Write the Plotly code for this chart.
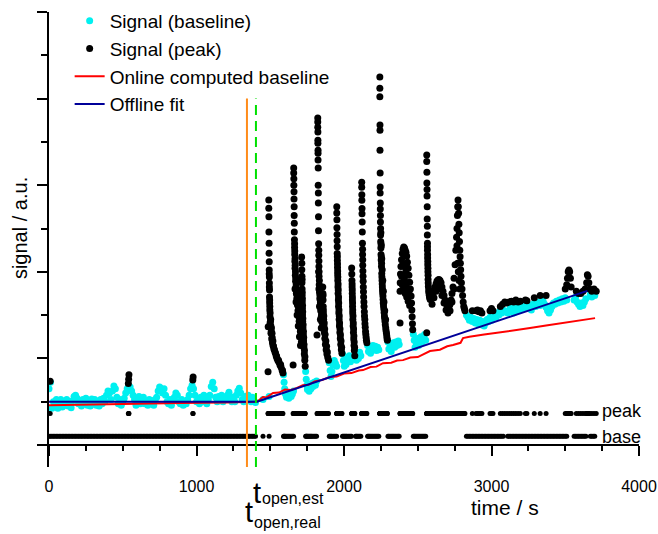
import plotly.graph_objects as go

# ---------------- data ----------------
# Signal classified as baseline (cyan), before opening: sampled every 10 s
base_pre_t = list(range(0, 1410, 10))
base_pre_v = [1.30, 1.45, 0.85, 1.00, 0.90, 1.05, 0.85, 0.95, 1.05, 0.88,
              1.00, 0.92, 1.05, 0.90, 1.00, 0.86, 1.02, 1.12, 1.15, 1.08,
              0.95, 1.02, 0.90, 1.05, 0.95, 1.08, 0.92, 1.02, 0.90, 1.06,
              0.95, 1.05, 0.92, 1.00, 0.90, 1.05, 0.95, 1.08, 1.00, 1.15,
              1.25, 1.20, 1.05, 1.25, 1.36, 1.30, 1.10, 0.95, 1.05, 0.92,
              1.00, 1.08, 1.20, 1.30, 1.34, 1.34, 1.25, 1.15, 1.05, 0.92,
              1.02, 1.12, 0.95, 1.05, 1.10, 0.95, 1.00, 0.92, 1.05, 0.95,
              1.02, 0.92, 1.05, 1.10, 1.25, 1.34, 1.30, 1.20, 1.30, 1.15,
              1.00, 0.95, 1.05, 0.92, 1.02, 1.10, 1.20, 1.15, 1.00, 0.95,
              1.05, 0.92, 1.00, 0.95, 1.05, 1.15, 1.30, 1.38, 1.30, 1.15,
              1.00, 1.08, 0.95, 1.10, 1.00, 1.15, 1.05, 0.95, 1.05, 1.15,
              1.35, 1.45, 1.30, 1.10, 1.00, 1.12, 1.02, 1.15, 1.00, 1.10,
              1.05, 1.15, 1.22, 1.12, 1.00, 1.08, 1.00, 1.15, 1.25, 1.31,
              1.20, 1.05, 1.00, 1.12, 1.05, 1.15, 1.08, 1.00, 1.10, 1.02,
              0.98]

# Baseline-classified signal after opening (between the peaks)
base_open_t = [1451, 1492,
               1590, 1594, 1598, 1603, 1610, 1618, 1626, 1634, 1642, 1650, 1658,
               1740, 1744, 1748, 1752, 1758, 1764, 1770, 1776, 1782, 1790, 1798, 1806, 1814,
               1900, 1906, 1912, 1918, 1926, 1934, 1942, 1950,
               1990, 1996, 2002, 2008, 2014, 2020, 2028, 2036, 2044, 2050,
               2078, 2084, 2090, 2098, 2106, 2114,
               2160, 2166, 2172, 2180, 2188, 2196, 2204, 2212, 2220, 2228, 2236,
               2298, 2304, 2312, 2320, 2328, 2336, 2344, 2352, 2360, 2368, 2374,
               2470, 2476, 2482, 2490, 2498, 2506, 2514, 2522, 2530, 2538, 2546, 2554]
base_open_v = [1.05, 1.12,
               1.62, 1.45, 1.30, 1.18, 1.10, 1.15, 1.08, 1.20, 1.12, 1.18, 1.25,
               1.70, 1.52, 1.38, 1.28, 1.32, 1.24, 1.36, 1.30, 1.42, 1.35, 1.45, 1.38, 1.48,
               1.90, 1.72, 1.58, 1.70, 1.85, 1.95, 1.88, 1.82,
               2.10, 1.95, 1.82, 1.92, 1.86, 2.00, 1.94, 2.06, 1.92, 2.00,
               2.05, 1.96, 2.10, 2.00, 2.14, 2.06,
               2.30, 2.16, 2.26, 2.12, 2.22, 2.30, 2.20, 2.28, 2.18, 2.26, 2.20,
               2.38, 2.22, 2.32, 2.16, 2.28, 2.36, 2.26, 2.38, 2.30, 2.40, 2.32,
               2.56, 2.42, 2.26, 2.36, 2.46, 2.30, 2.42, 2.50, 2.38, 2.46, 2.55, 2.42]

# Baseline-classified signal, late part
base_late_t = [2830, 2840, 2850, 2860, 2870, 2880, 2890, 2900, 2910, 2920,
               2930, 2940, 2950, 2960, 2970, 2980, 2990, 3000, 3010, 3020,
               3030, 3040, 3050, 3060, 3070, 3080, 3110, 3120, 3130, 3140,
               3150, 3160, 3170, 3180, 3190, 3200, 3210, 3220, 3230, 3240,
               3250, 3260, 3270, 3280, 3290, 3300, 3310, 3320, 3330, 3340,
               3350, 3360, 3370, 3380, 3390, 3400, 3410, 3420, 3430, 3440,
               3450, 3460, 3470, 3480, 3490, 3500, 3510, 3560, 3570, 3580,
               3590, 3600, 3610, 3620, 3630, 3640, 3670, 3680, 3690, 3700]
base_late_v = [3.00, 2.95, 2.88, 2.95, 2.85, 2.92, 2.82, 2.90, 2.80, 2.88,
               2.78, 2.85, 2.75, 2.82, 2.90, 2.85, 2.95, 2.88, 2.98, 3.02,
               2.95, 3.05, 3.00, 3.10, 3.05, 3.12, 3.05, 3.12, 3.18, 3.10,
               3.05, 3.15, 3.10, 3.18, 3.12, 3.20, 3.15, 3.22, 3.15, 3.20,
               3.25, 3.18, 3.12, 3.22, 3.28, 3.20, 3.25, 3.30, 3.22, 3.28,
               3.32, 3.25, 3.18, 3.10, 3.05, 3.12, 3.20, 3.28, 3.25, 3.32,
               3.28, 3.35, 3.30, 3.38, 3.32, 3.40, 3.35, 3.35, 3.42, 3.30,
               3.25, 3.20, 3.28, 3.22, 3.30, 3.38, 3.48, 3.42, 3.50, 3.45]

# Signal classified as peak (black)
peak_t = [8, 538, 540, 542, 975, 977,
          # peak 1
          1485, 1486, 1490, 1490, 1491, 1491, 1492, 1492, 1493, 1493, 1494, 1494, 1495, 1495,
          1496, 1497, 1498, 1499, 1500, 1503, 1505, 1508, 1510, 1512, 1515, 1519, 1525, 1532,
          1540, 1546, 1552, 1559, 1566, 1573, 1580, 1586,
          # peak 2
          1655, 1659, 1659, 1660, 1660, 1661, 1661, 1662, 1662, 1663, 1663, 1664, 1665, 1666,
          1667, 1668, 1670, 1672, 1674, 1677, 1680, 1684, 1688, 1692, 1696, 1700, 1704, 1708,
          1711, 1668, 1675, 1682, 1690, 1698, 1705,
          1713, 1714, 1714, 1715, 1715, 1716, 1716, 1717, 1718, 1719, 1720, 1722, 1724, 1726,
          1728, 1731, 1734, 1737,
          # peak 3
          1817, 1822, 1822, 1822, 1823, 1823, 1823, 1824, 1824, 1824, 1825, 1825, 1826, 1826,
          1827, 1827, 1828, 1829, 1830, 1831, 1832, 1834, 1836, 1839, 1842, 1846, 1850, 1854,
          1828, 1830, 1834, 1840, 1846,
          1856, 1857, 1858, 1859, 1860, 1862, 1864, 1867, 1870, 1874, 1879, 1884, 1890, 1895,
          # peak 4
          1951, 1951, 1952, 1952, 1953, 1953, 1954, 1954, 1955, 1956, 1957, 1958, 1959, 1960,
          1962, 1963, 1965, 1967, 1969, 1972, 1975, 1978, 1982, 1986,
          2052, 2053, 2054, 2055, 2056, 2057, 2058, 2059, 2060, 2062, 2064, 2066, 2068, 2070, 2073,
          # peak 5
          2120, 2120, 2121, 2121, 2122, 2122, 2123, 2124, 2125, 2126, 2127, 2129, 2131, 2133,
          2136, 2139, 2142, 2146, 2150, 2155,
          # peak 6
          2243, 2243, 2243, 2244, 2244, 2244, 2245, 2245, 2245, 2246, 2246, 2247, 2247, 2248,
          2248, 2249, 2250, 2251, 2252, 2254, 2256, 2258, 2260, 2262, 2265, 2268, 2272, 2276,
          2280, 2285, 2290, 2294,
          2250, 2253, 2256, 2259, 2263, 2267, 2271, 2276, 2282,
          # peak 7
          2380, 2380, 2381, 2383, 2386, 2390, 2395, 2400, 2405, 2410, 2415, 2420, 2425, 2430,
          2435, 2440, 2445, 2450, 2455, 2458, 2460, 2462, 2464, 2466,
          2390, 2395, 2400, 2400, 2405, 2410, 2410, 2415, 2420, 2420, 2425, 2430, 2435, 2440, 2445,
          # peak 8
          2561, 2561, 2561, 2562, 2562, 2563, 2563, 2564, 2564, 2565, 2565, 2566, 2566, 2567,
          2568, 2569, 2570, 2572, 2575, 2580, 2585,
          # wavy part and peak 9
          2590, 2597, 2603, 2610, 2617, 2624, 2630, 2637, 2644, 2651, 2658, 2664, 2671, 2678,
          2685, 2692, 2698, 2705, 2712, 2719, 2726, 2732, 2739, 2746, 2753, 2758, 2763, 2766,
          2769, 2771, 2773, 2775, 2777, 2779, 2781, 2783, 2785, 2787, 2789, 2791, 2793, 2796,
          2800, 2804, 2808, 2812, 2816, 2820,
          2597, 2610, 2624, 2637, 2651, 2664, 2678, 2692, 2705, 2719, 2732, 2746,
          2766, 2770, 2775, 2780, 2785,
          # late small peaks
          2870, 2895, 2905, 2915, 2925, 2935, 2990, 3000, 3010, 3060, 3075, 3090, 3105, 3120,
          3135, 3150, 3165, 3180, 3195, 3230, 3240, 3290, 3330, 3370,
          3500, 3510, 3515, 3520, 3525, 3530, 3535, 3540,
          3575, 3590, 3605, 3620, 3635, 3645, 3650, 3655, 3660, 3665, 3680, 3695, 3710]
peak_v = [1.47, 1.42, 1.52, 1.62, 1.50, 1.57,
          # peak 1
          1.69, 2.73, 5.66, 5.47, 5.27, 4.92, 4.66, 4.43, 4.23, 4.04, 3.88, 3.74, 3.58, 3.42,
          3.28, 3.12, 2.96, 2.82, 2.73, 2.90, 2.58, 2.70, 2.45, 2.58, 2.36, 2.30, 2.22, 2.15,
          2.06, 2.00, 1.95, 1.91, 1.85, 1.80, 1.73, 1.66,
          # peak 2
          1.85, 6.40, 6.28, 6.15, 6.00, 5.85, 5.68, 5.50, 5.30, 5.12, 4.92, 4.74, 4.56, 4.40,
          4.24, 4.08, 3.92, 3.78, 3.64, 3.50, 3.38, 3.24, 3.10, 2.98, 2.86, 2.74, 2.62, 2.50,
          2.38, 3.60, 3.30, 3.00, 2.75, 2.50, 2.30,
          4.34, 4.20, 4.05, 3.90, 3.75, 3.60, 3.45, 3.30, 3.15, 3.00, 2.85, 2.70, 2.55, 2.40,
          2.25, 2.10, 1.96, 1.82,
          # peak 3
          2.54, 7.55, 7.46, 7.34, 7.23, 7.04, 6.97, 6.81, 6.74, 6.58, 6.40, 6.00, 5.82, 5.59,
          5.27, 4.95, 4.65, 4.38, 4.12, 3.90, 3.70, 3.52, 3.38, 3.24, 3.10, 2.96, 2.84, 2.72,
          4.00, 3.60, 3.20, 2.90, 2.70,
          3.65, 3.50, 3.35, 3.20, 3.05, 2.90, 2.75, 2.60, 2.46, 2.32, 2.20, 2.10, 2.02, 1.96,
          # peak 4
          5.50, 5.36, 5.20, 5.02, 4.86, 4.72, 4.58, 4.42, 4.26, 4.10, 3.95, 3.80, 3.65, 3.50,
          3.35, 3.20, 3.05, 2.90, 2.75, 2.60, 2.46, 2.32, 2.20, 2.12,
          4.09, 3.95, 3.80, 3.65, 3.50, 3.35, 3.20, 3.05, 2.90, 2.75, 2.60, 2.45, 2.30, 2.18, 2.06,
          # peak 5
          6.07, 5.95, 5.78, 5.65, 5.46, 5.34, 5.15, 4.92, 4.66, 4.40, 4.15, 3.90, 3.65, 3.42,
          3.20, 2.98, 2.80, 2.62, 2.48, 2.36,
          # peak 6
          8.50, 8.24, 8.04, 7.39, 7.27, 6.81, 6.28, 5.96, 5.82, 5.59, 5.45, 5.30, 5.15, 5.00,
          4.85, 4.70, 4.55, 4.40, 4.27, 4.12, 3.96, 3.80, 3.65, 3.51, 3.36, 3.21, 3.06, 2.92,
          2.78, 2.64, 2.52, 2.42,
          4.90, 4.60, 4.30, 4.05, 3.80, 3.55, 3.30, 3.10, 2.90,
          # peak 7
          2.82, 3.55, 3.75, 3.95, 4.12, 4.28, 4.42, 4.52, 4.57, 4.55, 4.50, 4.45, 4.36, 4.22,
          4.08, 3.92, 3.76, 3.60, 3.44, 3.28, 3.12, 2.96, 2.80, 2.66,
          3.90, 3.70, 3.90, 4.18, 3.62, 3.82, 4.12, 3.50, 3.72, 4.02, 3.42, 3.62, 3.32, 3.52, 3.22,
          # peak 8
          2.59, 6.70, 6.55, 6.30, 6.05, 5.90, 5.75, 5.50, 5.22, 5.05, 4.85, 4.66, 4.50, 4.32,
          4.16, 4.00, 3.82, 3.66, 3.52, 3.42, 3.36,
          # wavy part and peak 9
          3.38, 3.42, 3.50, 3.58, 3.65, 3.72, 3.78, 3.81, 3.82, 3.80, 3.75, 3.65, 3.55, 3.45,
          3.35, 3.28, 3.22, 3.19, 3.20, 3.25, 3.35, 3.50, 3.65, 3.85, 4.16, 4.50, 4.80, 5.00,
          5.30, 5.50, 5.66, 5.50, 5.35, 5.10, 4.90, 4.70, 4.50, 4.35, 4.20, 4.05, 3.90, 3.75,
          3.60, 3.45, 3.30, 3.20, 3.15, 3.10,
          3.25, 3.40, 3.55, 3.62, 3.60, 3.45, 3.28, 3.12, 3.05, 3.10, 3.30, 3.60,
          4.60, 4.20, 4.00, 3.80, 3.60,
          # late small peaks
          3.10, 3.10, 3.12, 3.08, 3.10, 3.05, 3.10, 3.15, 3.10, 3.20, 3.25, 3.30, 3.28, 3.30,
          3.32, 3.30, 3.35, 3.30, 3.32, 3.35, 3.33, 3.40, 3.45, 3.45,
          3.60, 3.70, 3.85, 4.00, 4.04, 4.00, 3.85, 3.65,
          3.55, 3.50, 3.50, 3.55, 3.60, 3.75, 3.93, 3.90, 3.75, 3.60, 3.55, 3.60, 3.55]

# Further peak samples in the dense lower parts of the peaks
peak_fill_t = [1493, 1494, 1496, 1497, 1499, 1501, 1504, 1507, 1513, 1518, 1522, 1528, 1536,
               1543, 1556, 1570, 1583,
               1665, 1666, 1668, 1669, 1671, 1673, 1676, 1679, 1682, 1686, 1690, 1694, 1698,
               1702, 1706, 1710,
               1716, 1717, 1718, 1719, 1720, 1721, 1723, 1725, 1727, 1729, 1732, 1735,
               1829, 1830, 1831, 1833, 1835, 1837, 1840, 1844, 1848, 1852, 1858, 1860, 1863,
               1866, 1869, 1872, 1877, 1882, 1887,
               1955, 1956, 1957, 1958, 1960, 1961, 1963, 1964, 1966, 1968, 1970, 1973, 1976,
               1980, 1984,
               2055, 2056, 2057, 2058, 2059, 2061, 2063, 2065, 2067, 2069, 2072,
               2126, 2127, 2128, 2130, 2132, 2135, 2138, 2141, 2144, 2148, 2152,
               2251, 2253, 2255, 2257, 2259, 2261, 2264, 2266, 2270, 2274, 2278, 2283, 2288, 2292,
               2566, 2567, 2568, 2569, 2570, 2571, 2574, 2578, 2583]
peak_fill_v = [3.95, 3.65, 3.35, 3.20, 3.05, 2.85, 2.75, 2.62, 2.48, 2.40, 2.28, 2.20, 2.12,
               2.05, 1.96, 1.86, 1.72,
               4.65, 4.48, 4.30, 4.15, 4.00, 3.85, 3.70, 3.55, 3.45, 3.35, 3.20, 3.05, 2.92,
               2.80, 2.68, 2.56,
               3.82, 3.52, 3.38, 3.22, 3.08, 2.92, 2.78, 2.62, 2.48, 2.32, 2.18, 2.04,
               4.50, 4.25, 4.00, 3.80, 3.60, 3.45, 3.30, 3.15, 3.02, 2.90, 3.45, 3.12, 2.98,
               2.82, 2.68, 2.55, 2.40, 2.28, 2.15,
               4.35, 4.18, 4.02, 3.88, 3.72, 3.58, 3.42, 3.28, 3.12, 2.98, 2.82, 2.68, 2.54,
               2.40, 2.26,
               3.72, 3.58, 3.42, 3.28, 3.12, 2.98, 2.82, 2.68, 2.52, 2.38, 2.25,
               4.52, 4.28, 4.02, 3.78, 3.54, 3.30, 3.08, 2.90, 2.72, 2.55, 2.42,
               4.65, 4.35, 4.20, 3.88, 3.72, 3.58, 3.44, 3.28, 3.14, 2.98, 2.85, 2.70, 2.58, 2.46,
               4.58, 4.40, 4.24, 4.08, 3.92, 3.74, 3.58, 3.46, 3.38]

# Online computed baseline (red)
online_t = [0, 300, 600, 900, 1200, 1410, 1451, 1475, 1519, 1560, 1600, 1640, 1681, 1720,
            1760, 1800, 1850, 1905, 1950, 2000, 2050, 2100, 2129, 2180, 2220, 2264, 2320,
            2360, 2400, 2450, 2500, 2540, 2583, 2650, 2700, 2739, 2790, 2807, 2850, 2950,
            3037, 3150, 3261, 3370, 3485, 3600, 3702]
online_v = [0.92, 0.94, 0.95, 0.97, 0.98, 1.00, 1.11, 1.10, 1.20, 1.21, 1.28, 1.27, 1.32, 1.38,
            1.39, 1.47, 1.50, 1.57, 1.58, 1.65, 1.66, 1.72, 1.73, 1.80, 1.81, 1.89, 1.90,
            1.95, 1.96, 2.02, 2.03, 2.10, 2.17, 2.20, 2.28, 2.31, 2.36, 2.47, 2.50, 2.55,
            2.59, 2.64, 2.70, 2.76, 2.82, 2.88, 2.93]

# Offline fit (blue)
fit_t = [0, 1410, 3650]
fit_v = [1.00, 1.00, 3.56]

# Opening times
t_open_real = 1342
t_open_est = 1403

x_ticks = [0, 1000, 2000, 3000, 4000]
x_tick_labels = ["0", "1000", "2000", "3000", "4000"]

# ---------------- layout constants ----------------
PEAK_ROW = 0.73
BASE_ROW = 0.20
Y_MIN, Y_MAX = -0.508, 10.0
FONT = "Liberation Sans, Arial, sans-serif"

base_t = base_pre_t + base_open_t + base_late_t
base_v = base_pre_v + base_open_v + base_late_v
all_peak_t = peak_t + peak_fill_t
all_peak_v = peak_v + peak_fill_v

fig = go.Figure()
fig.add_trace(go.Scatter(x=base_t, y=base_v, mode="markers", name="Signal (baseline)",
                         marker=dict(color="#00F0F0", size=7, line=dict(width=0))))
fig.add_trace(go.Scatter(x=all_peak_t, y=all_peak_v, mode="markers", name="Signal (peak)",
                         marker=dict(color="black", size=7, line=dict(width=0))))
fig.add_trace(go.Scatter(x=online_t, y=online_v, mode="lines", name="Online computed baseline",
                         line=dict(color="#FF0000", width=2)))
fig.add_trace(go.Scatter(x=fit_t, y=fit_v, mode="lines", name="Offline fit",
                         line=dict(color="#000099", width=2)))
# classification indicator rows
fig.add_trace(go.Scatter(x=all_peak_t, y=[PEAK_ROW] * len(all_peak_t), mode="markers",
                         showlegend=False, hoverinfo="skip",
                         marker=dict(color="black", size=5, line=dict(width=0))))
fig.add_trace(go.Scatter(x=base_t, y=[BASE_ROW] * len(base_t), mode="markers",
                         showlegend=False, hoverinfo="skip",
                         marker=dict(color="black", size=5, line=dict(width=0))))

fig.add_shape(type="line", x0=t_open_real, x1=t_open_real, y0=Y_MIN, y1=8.0,
              line=dict(color="#FF8C1A", width=2))
fig.add_shape(type="line", x0=t_open_est, x1=t_open_est, y0=Y_MIN, y1=8.0,
              line=dict(color="#00E000", width=2, dash="10px,6px"))

ann = []
ann.append(dict(x=3736, y=PEAK_ROW + 0.05, xref="x", yref="y", text="peak", showarrow=False,
                xanchor="left", yanchor="middle", font=dict(size=18, family=FONT, color="black")))
ann.append(dict(x=3736, y=BASE_ROW - 0.02, xref="x", yref="y", text="base", showarrow=False,
                xanchor="left", yanchor="middle", font=dict(size=18, family=FONT, color="black")))
ann.append(dict(x=1410, y=-0.0571, xref="x", yref="paper", text="t", showarrow=False,
                xanchor="center", yanchor="middle", font=dict(size=29, family=FONT, color="black")))
ann.append(dict(x=1431, y=-0.0703, xref="x", yref="paper", text="open,est", showarrow=False,
                xanchor="left", yanchor="middle", font=dict(size=16, family=FONT, color="black")))
ann.append(dict(x=1353, y=-0.0989, xref="x", yref="paper", text="t", showarrow=False,
                xanchor="center", yanchor="middle", font=dict(size=29, family=FONT, color="black")))
ann.append(dict(x=1376, y=-0.1209, xref="x", yref="paper", text="open,real", showarrow=False,
                xanchor="left", yanchor="middle", font=dict(size=16, family=FONT, color="black")))
ann.append(dict(x=3092, y=-0.0880, xref="x", yref="paper", text="time / s", showarrow=False,
                xanchor="center", yanchor="middle", font=dict(size=21, family=FONT, color="black")))
ann.append(dict(x=-0.0492, y=0.525, xref="paper", yref="paper", text="signal / a.u.",
                showarrow=False, textangle=-90, xanchor="center", yanchor="middle",
                font=dict(size=20, family=FONT, color="black")))

fig.update_layout(
    width=658, height=534,
    margin=dict(l=49, r=19, t=12, b=67, autoexpand=False),
    paper_bgcolor="white", plot_bgcolor="white",
    font=dict(family=FONT, color="black"),
    annotations=ann,
    legend=dict(x=0.035, y=1.022, xanchor="left", yanchor="top", bgcolor="rgba(0,0,0,0)",
                font=dict(size=19, family=FONT, color="black"), borderwidth=0),
    xaxis=dict(range=[0, 4000], anchor="free", position=0.0483, showline=True,
               linecolor="black", linewidth=1.5, ticks="outside", ticklen=10, tickwidth=1.5,
               tickcolor="black", tickvals=x_ticks, ticktext=x_tick_labels,
               tickfont=dict(size=16, family=FONT, color="black"), ticklabelstandoff=17,
               minor=dict(dtick=250, tick0=0, ticks="outside", ticklen=5, tickwidth=1.5,
                          tickcolor="black", showgrid=False),
               showgrid=False, zeroline=False),
    yaxis=dict(range=[Y_MIN, Y_MAX], showline=True, linecolor="black", linewidth=1.5,
               ticks="outside", ticklen=10, tickwidth=1.5, tickcolor="black",
               tick0=0, dtick=2, showticklabels=False,
               minor=dict(dtick=1, tick0=0, ticks="outside", ticklen=6, tickwidth=1.5,
                          tickcolor="black", showgrid=False),
               showgrid=False, zeroline=False),
)

fig.write_html("out.html", config={"displayModeBar": False},
               post_script="document.body.style.margin='0';")
